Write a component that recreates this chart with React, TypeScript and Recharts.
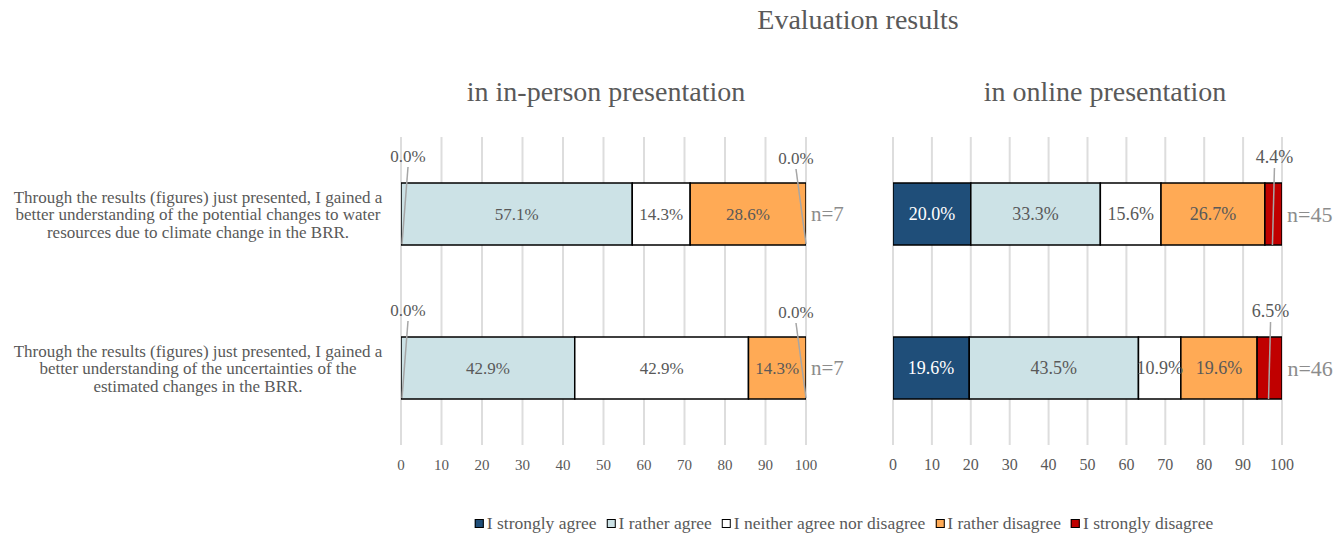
import { BarChart, Bar, XAxis, YAxis, CartesianGrid, LabelList } from 'recharts';

const FONT = '"Liberation Serif", "Times New Roman", serif';
const TEXT = '#595959';
const LEADER = '#A6A6A6';

const questionLines = [
  [
    'Through the results (figures) just presented, I gained a',
    'better understanding of the potential changes to water',
    'resources due to climate change in the BRR.',
  ],
  [
    'Through the results (figures) just presented, I gained a',
    'better understanding of the uncertainties of the',
    'estimated changes in the BRR.',
  ],
];

const responses = [
  'I strongly agree',
  'I rather agree',
  'I neither agree nor disagree',
  'I rather disagree',
  'I strongly disagree',
];
const colors = ['#1F4E79', '#CCE2E6', '#FFFFFF', '#FFAA55', '#C00000'];

// shares in %, one value per response
const inPersonQ1 = [0, 57.1, 14.3, 28.6, 0];
const inPersonQ2 = [0, 42.9, 42.9, 14.3, 0];
const onlineQ1 = [20.0, 33.3, 15.6, 26.7, 4.4];
const onlineQ2 = [19.6, 43.5, 10.9, 19.6, 6.5];
const inPersonN = [7, 7];
const onlineN = [45, 46];

const ticks = [0, 10, 20, 30, 40, 50, 60, 70, 80, 90, 100];

function buildRows(q1: number[], q2: number[], n: number[]) {
  return [q1, q2].map((vals, q) => {
    const row: Record<string, number> = { q, n: n[q] };
    vals.forEach((v, i) => (row['s' + i] = v));
    return row;
  });
}

const inPersonRows = buildRows(inPersonQ1, inPersonQ2, inPersonN);
const onlineRows = buildRows(onlineQ1, onlineQ2, onlineN);

const QuestionTick = (props: any) => {
  const { y, payload } = props;
  const lines = questionLines[payload.value] || [];
  const lh = 17.5;
  return (
    <text x={198} y={y} textAnchor="middle" fill={TEXT} fontSize={17} fontFamily={FONT}>
      {lines.map((l, k) => (
        <tspan key={k} x={198} dy={k === 0 ? -((lines.length - 1) / 2) * lh + 6 : lh}>
          {l}
        </tspan>
      ))}
    </text>
  );
};

const pct = (v: number) => v.toFixed(1) + '%';

// label with a leader line, drawn above the bar
function Callout({ tx, ty, lx, ly, text, fs }: any) {
  return (
    <g>
      <text x={tx} y={ty} fill={TEXT} fontSize={fs} fontFamily={FONT} textAnchor="middle" dominantBaseline="central">
        {text}
      </text>
      <line x1={tx} y1={ty + 11} x2={lx} y2={ly} stroke={LEADER} strokeWidth={1.5} />
    </g>
  );
}

// the LabelList value is the whole row, geometry is that of series i
const makeLabel = (i: number, fs: number, nfs: number) => (props: any) => {
  const { x, y, width, height, value: row } = props;
  if (!row) return null;
  const v = row['s' + i];
  const parts: any[] = [];
  if (v >= 8) {
    parts.push(
      <text key="v" x={x + width / 2} y={y + height / 2} fill={i === 0 ? '#FFFFFF' : TEXT} fontSize={fs} fontFamily={FONT} textAnchor="middle" dominantBaseline="central">
        {pct(v)}
      </text>
    );
  } else if (v > 0) {
    const cx = x + width / 2;
    parts.push(<Callout key="v" tx={cx + 1} ty={y - 26} lx={cx - 1} ly={y + height} text={pct(v)} fs={fs} />);
  }
  // zero shares have no rectangle, so neighbours draw their callouts
  if (i === 1 && row.s0 === 0) {
    parts.push(<Callout key="z0" tx={x + 7} ty={y - 27} lx={x + 1} ly={y + height - 1} text={pct(0)} fs={fs} />);
  }
  if (i === 3) {
    const end = x + width + (row.s4 * width) / row.s3;
    if (row.s4 === 0) {
      parts.push(<Callout key="z4" tx={x + width - 10} ty={y - 25} lx={x + width} ly={y + height - 1} text={pct(0)} fs={fs} />);
    }
    parts.push(
      <text key="n" x={end + 5} y={y + height / 2} fill="#8C8C8C" fontSize={nfs} fontFamily={FONT} dominantBaseline="central">
        {'n=' + row.n}
      </text>
    );
  }
  return <g>{parts}</g>;
};

function Panel({ rows, width, margin, showQuestions, fs, tfs, nfs }: any) {
  return (
    <BarChart width={width} height={533} data={rows} layout="vertical" margin={margin} barSize={62}>
      <CartesianGrid horizontal={false} stroke="#DDDDDD" strokeWidth={2} />
      <XAxis
        type="number"
        domain={[0, 100]}
        ticks={ticks}
        allowDataOverflow
        axisLine={false}
        tickLine={false}
        tickMargin={8}
        tick={{ fill: TEXT, fontSize: tfs, fontFamily: FONT }}
      />
      <YAxis
        type="category"
        dataKey="q"
        width={401}
        hide={!showQuestions}
        axisLine={false}
        tickLine={false}
        tick={<QuestionTick />}
      />
      {responses.map((r, i) => (
        <Bar
          key={r}
          dataKey={'s' + i}
          name={r}
          stackId="a"
          fill={colors[i]}
          stroke="#000000"
          strokeWidth={1.5}
          isAnimationActive={false}
        >
          <LabelList dataKey={(row: any) => row} content={makeLabel(i, fs, nfs)} />
        </Bar>
      ))}
    </BarChart>
  );
}

export default function App() {
  const heading = { position: 'absolute' as const, transform: 'translateX(-50%)', fontSize: 28, lineHeight: '32px', whiteSpace: 'nowrap' as const };
  return (
    <div style={{ position: 'absolute', left: 0, top: 0, width: 1343, height: 533, background: '#fff', fontFamily: FONT, color: TEXT }}>
      <div style={{ ...heading, left: 858, top: 4 }}>Evaluation results</div>
      <div style={{ ...heading, left: 606, top: 76 }}>in in-person presentation</div>
      <div style={{ ...heading, left: 1105, top: 76 }}>in online presentation</div>
      <div style={{ position: 'absolute', left: 0, top: 0 }}>
        <Panel rows={inPersonRows} width={860} margin={{ top: 137, right: 54, bottom: 58, left: 0 }} showQuestions fs={17} tfs={15} nfs={21} />
      </div>
      <div style={{ position: 'absolute', left: 860, top: 0 }}>
        <Panel rows={onlineRows} width={483} margin={{ top: 137, right: 61, bottom: 58, left: 33 }} showQuestions={false} fs={18} tfs={16} nfs={22} />
      </div>
      <div style={{ position: 'absolute', left: 844, top: 513, transform: 'translateX(-50%)', display: 'flex', alignItems: 'center', gap: 10, fontSize: 17.5, lineHeight: '20px', whiteSpace: 'nowrap' }}>
        {responses.map((r, i) => (
          <div key={r} style={{ display: 'flex', alignItems: 'center', gap: 3 }}>
            <span style={{ display: 'inline-block', width: 7, height: 7, background: colors[i], border: '1.5px solid #000' }} />
            <span>{r}</span>
          </div>
        ))}
      </div>
    </div>
  );
}
